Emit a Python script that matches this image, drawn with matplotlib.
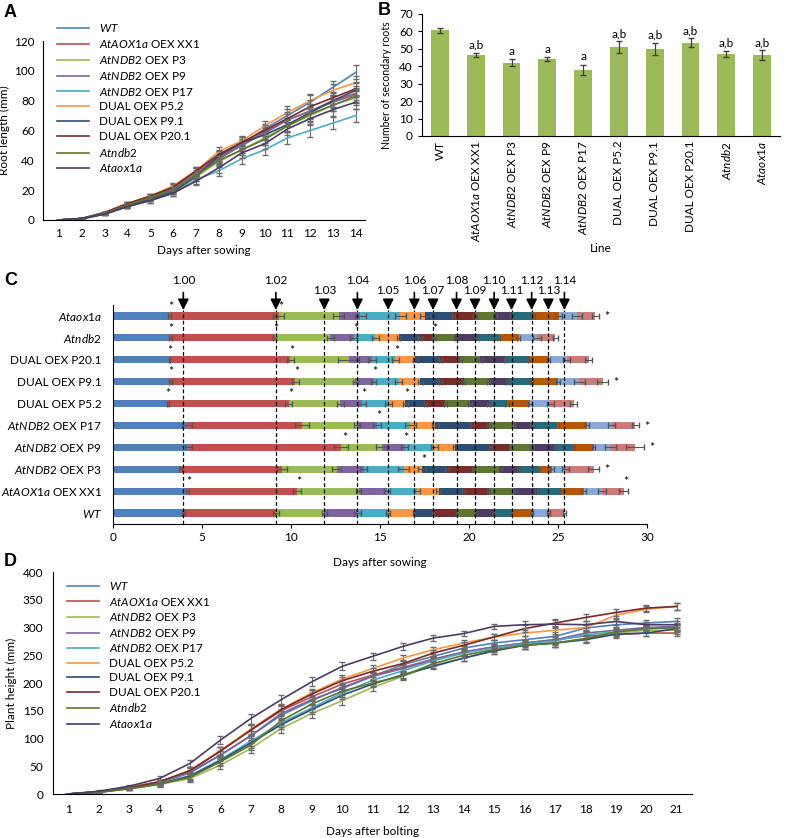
import numpy as np
import matplotlib
matplotlib.use('Agg')
import matplotlib.pyplot as plt

plt.rcParams['font.family'] = ['Lato', 'DejaVu Sans']
plt.rcParams['mathtext.fontset'] = 'custom'
plt.rcParams['mathtext.rm'] = 'Lato'
plt.rcParams['mathtext.it'] = 'Lato:italic'
plt.rcParams['font.size'] = 8.5

# line names (italic gene names via mathtext)
labels = [r'$\it{WT}$', r'$\it{AtAOX1a}$ OEX XX1', r'$\it{AtNDB2}$ OEX P3',
          r'$\it{AtNDB2}$ OEX P9', r'$\it{AtNDB2}$ OEX P17', 'DUAL OEX P5.2',
          'DUAL OEX P9.1', 'DUAL OEX P20.1', r'$\it{Atndb2}$', r'$\it{Ataox1a}$']
colors = ['#4F81BD', '#C0504D', '#9BBB59', '#8064A2', '#4BACC6', '#F79646',
          '#2C4D75', '#772C2A', '#5F7530', '#4D3B62']

# ---- panel A: root length
a_days = list(range(1, 15))
a_wt = [0, 1, 5, 10, 15, 21, 32, 43, 51, 61, 70, 79, 89, 99]
a_xx1 = [0, 1, 5, 11, 16, 22, 32, 42, 50, 59, 67, 73, 80, 85]
a_p3 = [0, 1, 4, 9, 14, 19, 29, 39, 47, 55, 63, 70, 77, 82]
a_p9 = [0, 1, 4.5, 10, 15, 21, 31, 41, 50, 58, 67, 73, 79, 84]
a_p17 = [0, 0.5, 4, 9, 13, 18, 27, 33, 41, 47, 55, 60, 65, 70]
a_p52 = [0, 1, 5, 11, 16, 23, 33, 46, 53, 63, 72, 80, 87, 92]
a_p91 = [0, 1, 4, 9, 14, 19, 29, 43, 52, 57, 64, 72, 80, 87]
a_p201 = [0, 1, 5, 11, 16, 22, 33, 44, 52, 60, 68, 76, 82, 88]
a_ndb2 = [0, 1, 4.5, 10, 15, 20, 30, 40, 47, 54, 63, 71, 77, 83]
a_aox = [0, 1, 4, 9, 13, 18, 26, 35, 45, 51, 61, 68, 74, 79]
a_err = [0.1, 0.3, 0.6, 1.0, 1.4, 1.9, 2.6, 3.2, 3.6, 3.5, 4.2, 4.5, 4.0, 4.6]

# ---- panel B: secondary roots
b_lines = ['WT', r'$\it{AtAOX1a}$ OEX XX1', r'$\it{AtNDB2}$ OEX P3',
           r'$\it{AtNDB2}$ OEX P9', r'$\it{AtNDB2}$ OEX P17', 'DUAL OEX P5.2',
           'DUAL OEX P9.1', 'DUAL OEX P20.1', r'$\it{Atndb2}$', r'$\it{Ataox1a}$']
b_vals = [60.7, 46.5, 42, 44, 38, 51, 50, 53.5, 47, 46.5]
b_err = [1.5, 1.3, 2, 1.2, 3, 3.5, 3.5, 2.5, 1.8, 2.8]
b_sig = ['', 'a,b', 'a', 'a', 'a', 'a,b', 'a,b', 'a,b', 'a,b', 'a,b']

# ---- panel C: growth stages (cumulative days to each stage)
stages = ['1.00', '1.02', '1.03', '1.04', '1.05', '1.06', '1.07', '1.08',
          '1.09', '1.10', '1.11', '1.12', '1.13', '1.14']
stage_colors = ['#4F81BD', '#C0504D', '#9BBB59', '#8064A2', '#4BACC6', '#F79646',
                '#2C4D75', '#772C2A', '#5F7530', '#4D3B62', '#276A7C', '#B65708',
                '#8AA8D8', '#CD7B79']
c_wt = [3.95, 9.15, 11.87, 13.73, 15.46, 16.93, 17.98, 19.30, 20.34, 21.41, 22.39, 23.52, 24.46, 25.36]
c_xx1 = [4.19, 10.34, 13.80, 15.39, 17.08, 18.30, 19.70, 21.10, 22.51, 23.82, 25.22, 26.44, 27.47, 28.69]
c_p3 = [3.78, 9.49, 12.58, 14.08, 16.33, 17.36, 18.76, 20.26, 21.76, 22.79, 23.91, 24.66, 25.41, 27.00]
c_p9 = [4.25, 12.80, 15.10, 16.38, 18.05, 19.23, 21.20, 22.32, 23.54, 24.85, 25.88, 27.00, 27.94, 29.34]
c_p17 = [4.16, 10.62, 13.71, 14.83, 16.70, 18.11, 20.17, 21.11, 22.51, 23.54, 24.94, 26.63, 28.03, 29.34]
c_p52 = [3.07, 9.87, 12.77, 13.99, 15.48, 16.42, 17.55, 18.67, 20.07, 21.10, 22.14, 23.44, 24.57, 25.88]
c_p91 = [3.22, 10.24, 13.61, 14.64, 16.05, 17.26, 18.39, 19.70, 21.10, 22.20, 23.52, 25.00, 26.20, 27.50]
c_p201 = [3.18, 9.96, 13.24, 14.55, 15.86, 16.98, 18.39, 19.51, 20.63, 22.04, 23.44, 24.47, 25.50, 26.72]
c_ndb2 = [3.22, 9.08, 12.20, 13.52, 14.74, 16.05, 17.26, 18.02, 19.23, 20.45, 21.66, 22.79, 23.82, 24.85]
c_aox = [3.18, 9.30, 12.67, 13.90, 16.14, 17.54, 19.14, 20.35, 21.48, 22.42, 23.63, 25.03, 26.07, 27.10]
e_wt = [0.1, 0.15, 0.15, 0.2, 0.1, 0.05, 0.05, 0.05, 0.05, 0.05, 0.05, 0.05, 0.1, 0.1]
e_xx1 = [0.1, 0.2, 0.15, 0.15, 0.15, 0.15, 0.1, 0.1, 0.1, 0.1, 0.1, 0.15, 0.2, 0.25]
e_p3 = [0.1, 0.3, 0.25, 0.2, 0.3, 0.2, 0.1, 0.1, 0.1, 0.1, 0.1, 0.1, 0.2, 0.3]
e_p9 = [0.2, 0.4, 0.3, 0.2, 0.2, 0.15, 0.1, 0.1, 0.1, 0.1, 0.1, 0.1, 0.3, 0.5]
e_p17 = [0.3, 0.4, 0.15, 0.2, 0.3, 0.2, 0.1, 0.1, 0.1, 0.1, 0.1, 0.1, 0.2, 0.2]
e_p52 = [0.05, 0.2, 0.2, 0.2, 0.2, 0.15, 0.1, 0.1, 0.1, 0.1, 0.1, 0.1, 0.2, 0.2]
e_p91 = [0.1, 0.2, 0.15, 0.15, 0.2, 0.15, 0.1, 0.1, 0.1, 0.1, 0.1, 0.1, 0.3, 0.3]
e_p201 = [0.05, 0.2, 0.6, 0.2, 0.2, 0.15, 0.1, 0.1, 0.1, 0.1, 0.1, 0.1, 0.2, 0.2]
e_ndb2 = [0.1, 0.1, 0.2, 0.2, 0.2, 0.1, 0.1, 0.1, 0.1, 0.1, 0.1, 0.1, 0.2, 0.15]
e_aox = [0.1, 0.3, 0.3, 0.3, 0.3, 0.3, 0.1, 0.1, 0.1, 0.1, 0.1, 0.2, 0.3, 0.2]
# stages marked with * above the bar, and * at the end of the bar
star_above = [[], [0, 1, 13], [5], [1, 3], [3], [0, 1, 3, 5], [0, 1, 3], [0, 1, 4], [0, 1, 3, 7], [0, 1]]
star_side = [False, False, True, True, True, False, True, False, False, True]
label_upper = [True, True, False, True, False, True, False, True, False, True, False, True, False, True]

# ---- panel D: plant height
d_days = list(range(1, 22))
d_wt = [0, 4, 12, 22, 40, 70, 105, 142, 168, 192, 212, 233, 248, 263, 272, 278, 284, 299, 305, 308, 311]
d_xx1 = [0, 4, 12, 22, 42, 78, 115, 150, 175, 198, 214, 228, 243, 256, 265, 272, 278, 285, 287, 290, 290]
d_p3 = [0, 3, 9, 17, 28, 52, 82, 118, 145, 168, 192, 212, 232, 245, 258, 268, 272, 280, 290, 295, 295]
d_p9 = [0, 4, 11, 20, 38, 70, 105, 145, 170, 190, 212, 226, 242, 256, 265, 272, 278, 290, 295, 300, 302]
d_p17 = [0, 3, 10, 19, 33, 62, 95, 128, 155, 182, 205, 222, 240, 254, 263, 270, 276, 287, 292, 298, 300]
d_p52 = [0, 4, 11, 22, 42, 78, 117, 153, 182, 207, 226, 245, 260, 272, 283, 290, 295, 300, 322, 333, 338]
d_p91 = [0, 3, 10, 18, 32, 60, 92, 125, 152, 178, 198, 215, 230, 245, 258, 268, 272, 278, 288, 290, 298]
d_p201 = [0, 4, 11, 22, 42, 77, 115, 152, 180, 204, 221, 235, 254, 268, 283, 298, 308, 318, 327, 335, 338]
d_ndb2 = [0, 3, 10, 18, 30, 58, 88, 132, 162, 185, 200, 213, 235, 250, 260, 268, 272, 280, 292, 298, 300]
d_aox = [0, 5, 14, 28, 55, 97, 136, 170, 202, 230, 248, 266, 281, 289, 302, 305, 306, 305, 311, 305, 305]
d_err = [0.5, 1.5, 2.5, 4, 6, 7, 9, 8, 8, 7, 6, 6, 5, 5, 5, 6, 7, 6, 6, 5, 6]

W, H = 789, 838
fig = plt.figure(figsize=(W / 100, H / 100), dpi=100)


def box(l, t, r, b):
    return [l / W, 1 - b / H, (r - l) / W, (b - t) / H]


def clean(ax):
    ax.spines['top'].set_visible(False)
    ax.spines['right'].set_visible(False)


def growth(ax, days, series, err):
    for vals, lab, col in zip(series, labels, colors):
        ax.errorbar(days, vals, yerr=err, fmt='none', ecolor='#6b6b6b',
                    elinewidth=0.8, capsize=2)
        ax.plot(days, vals, color=col, lw=1.2, label=lab)


# A
axA = fig.add_axes(box(43, 41, 365, 220))
growth(axA, a_days, [a_wt, a_xx1, a_p3, a_p9, a_p17, a_p52, a_p91, a_p201, a_ndb2, a_aox], a_err)
axA.set_xlim(0.3, 14.4)
axA.set_ylim(0, 120)
axA.set_yticks(range(0, 121, 20))
axA.set_xticks(a_days)
axA.tick_params(length=0, pad=6)
axA.set_ylabel('Root length (mm)', labelpad=3)
axA.set_xlabel('Days after sowing', labelpad=4)
clean(axA)
axA.legend(loc='upper left', bbox_to_anchor=(0.03, 1.13), frameon=False,
           handlelength=2.7, labelspacing=0.32, borderaxespad=0)

# B
axB = fig.add_axes(box(422, 14, 780, 136))
xb = np.arange(len(b_vals))
axB.bar(xb, b_vals, width=0.5, color='#9BBB59', yerr=b_err, ecolor='#404040',
        error_kw=dict(elinewidth=0.9, capsize=2.5))
for x, v, e, s in zip(xb, b_vals, b_err, b_sig):
    axB.text(x, v + e + 1.2, s, ha='center', va='bottom')
axB.set_xlim(-0.5, 9.5)
axB.set_ylim(0, 70)
axB.set_yticks(range(0, 71, 10))
axB.set_xticks(xb)
axB.set_xticklabels(b_lines, rotation=90)
axB.tick_params(axis='x', length=0)
axB.tick_params(axis='y', length=3)
axB.set_ylabel('Number of secondary roots', fontsize=7.6)
axB.yaxis.set_label_coords(-0.085, 0.42)
axB.set_xlabel('Line', labelpad=1)
clean(axB)

# C
axC = fig.add_axes(box(113, 305, 647, 524))
c_rows = [c_wt, c_xx1, c_p3, c_p9, c_p17, c_p52, c_p91, c_p201, c_ndb2, c_aox]
c_errs = [e_wt, e_xx1, e_p3, e_p9, e_p17, e_p52, e_p91, e_p201, e_ndb2, e_aox]
for y, (ends, errs) in enumerate(zip(c_rows, c_errs)):
    ends = np.array(ends)
    starts = np.concatenate([[0], ends[:-1]])
    axC.barh([y] * len(ends), ends - starts, left=starts, height=0.33,
             color=stage_colors, zorder=2)
    axC.errorbar(ends, [y] * len(ends), xerr=errs, fmt='none', ecolor='#555555',
                 elinewidth=0.8, capsize=2.5, zorder=3)
    for i in star_above[y]:
        axC.text(ends[i] + errs[i] * 0.5, y + 0.42, '*', ha='center', va='center', fontsize=9)
    if star_side[y]:
        axC.text(ends[-1] + errs[-1] + 0.45, y - 0.05, '*', ha='center', va='center', fontsize=9)
tip = 9.27
for x, lab, up in zip(c_wt, stages, label_upper):
    ylab = 10.64 if up else 10.18
    axC.vlines(x, -0.5, tip, colors='k', linestyles=(0, (3, 2)), lw=0.9, zorder=4)
    axC.annotate(lab, xy=(x, tip), xytext=(x, ylab), ha='center', va='center',
                 annotation_clip=False,
                 arrowprops=dict(arrowstyle='-|>', color='k', lw=1.2, shrinkA=3,
                                 shrinkB=0, mutation_scale=16))
axC.set_xlim(0, 30)
axC.set_ylim(-0.5, 9.5)
axC.set_xticks(range(0, 31, 5))
axC.set_yticks(range(10))
axC.set_yticklabels(labels)
axC.tick_params(axis='y', length=0, pad=8)
axC.tick_params(axis='x', length=3, pad=3)
axC.set_xlabel('Days after sowing', labelpad=10)
clean(axC)

# D
axD = fig.add_axes(box(53, 572, 692, 794))
growth(axD, d_days, [d_wt, d_xx1, d_p3, d_p9, d_p17, d_p52, d_p91, d_p201, d_ndb2, d_aox], d_err)
axD.set_xlim(0.5, 21.5)
axD.set_ylim(0, 400)
axD.set_yticks(range(0, 401, 50))
axD.set_xticks(d_days)
axD.tick_params(length=0, pad=7)
axD.set_ylabel('Plant height (mm)')
axD.set_xlabel('Days after bolting', labelpad=8)
clean(axD)
axD.legend(loc='upper left', bbox_to_anchor=(0.015, 0.985), frameon=False,
           handlelength=2.7, labelspacing=0.3, borderaxespad=0)

for lab, x, y in [('A', 4, 4), ('B', 378, 2), ('C', 4, 272), ('D', 4, 553)]:
    fig.text(x / W, 1 - y / H, lab, fontsize=13, fontweight='bold', va='top',
             family='Liberation Sans')

fig.savefig('out.png', dpi=100)
